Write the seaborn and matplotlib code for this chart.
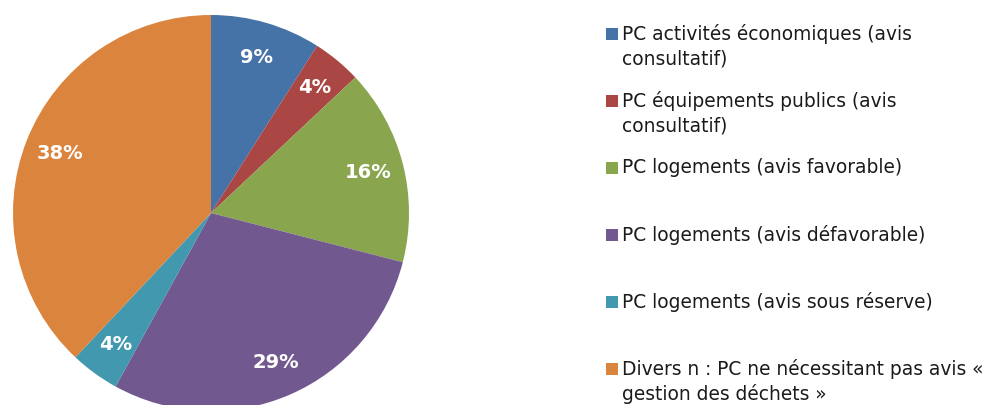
import matplotlib
matplotlib.use("Agg")
import matplotlib.pyplot as plt
from matplotlib.patches import Rectangle
import seaborn as sns

labels = [
    "PC activités économiques (avis\nconsultatif)",
    "PC équipements publics (avis\nconsultatif)",
    "PC logements (avis favorable)",
    "PC logements (avis défavorable)",
    "PC logements (avis sous réserve)",
    "Divers n : PC ne nécessitant pas avis «\ngestion des déchets »",
]
values = [9, 4, 16, 29, 4, 38]
colors = ["#4572A7", "#AA4643", "#89A54E", "#71588F", "#4198AF", "#DB843D"]

sns.set_theme(style="white")
plt.rcParams["font.family"] = ["DejaVu Sans"]

W, H = 991, 405
fig = plt.figure(figsize=(W / 100, H / 100), dpi=100)
fig.patch.set_facecolor("white")

# pie axes: centre (211, 213) px, radius 198 px
cx, cy, r = 211, 213, 198
ax = fig.add_axes([(cx - r) / W, (H - cy - r) / H, 2 * r / W, 2 * r / H])

palette = sns.color_palette(colors)
wedges, texts, autotexts = ax.pie(
    values,
    colors=palette,
    startangle=90,
    counterclock=False,
    radius=1,
    autopct=lambda p: f"{p:.0f}%",
    pctdistance=0.82,
    wedgeprops=dict(linewidth=0),
    textprops=dict(color="white", fontsize=14, fontweight="bold"),
)
ax.set_xlim(-1, 1)
ax.set_ylim(-1, 1)
ax.axis("off")
for w in wedges:
    w.set_clip_on(False)

# legend drawn by hand so the square sits on the first line
x_sq, x_txt = 606, 622
y0, step = 24, 67
for i, (lab, col) in enumerate(zip(labels, palette)):
    ytop = y0 + step * i
    fig.patches.append(Rectangle((x_sq / W, 1 - (ytop + 16) / H), 12 / W, 12 / H,
                                 transform=fig.transFigure, facecolor=col,
                                 edgecolor="none"))
    fig.text(x_txt / W, 1 - ytop / H, lab, fontsize=13.4, color="#1a1a1a",
             va="top", ha="left", linespacing=1.34)

fig.savefig("out.png", dpi=100, facecolor="white")
